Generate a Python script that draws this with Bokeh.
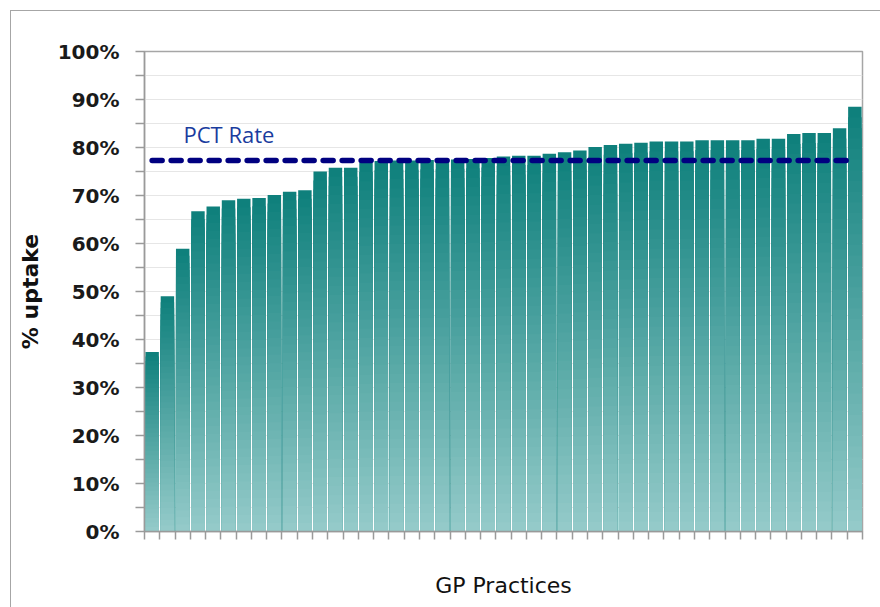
from bokeh.plotting import figure
from bokeh.models import (FixedTicker, PrintfTickFormatter, Range1d, Label,
                          ColumnDataSource, InlineStyleSheet)
from bokeh.embed import file_html
from bokeh.resources import INLINE

# ---- data ----
practices = list(range(1, 48))
uptake = [37.4, 49.0, 58.9, 66.7, 67.7, 69.0, 69.3, 69.5, 70.1, 70.8, 71.1,
          75.0, 75.8, 75.8, 76.8, 77.2, 77.3, 77.3, 77.4, 77.4, 77.5, 77.6,
          77.8, 78.1, 78.3, 78.3, 78.7, 79.0, 79.4, 80.1, 80.5, 80.8, 81.0,
          81.25, 81.25, 81.25, 81.5, 81.5, 81.5, 81.5, 81.8, 81.8, 82.8, 83.0,
          83.0, 84.0, 88.5]
pct_rate = 77.3
y_ticks = [0, 10, 20, 30, 40, 50, 60, 70, 80, 90, 100]
y_minor = [5, 15, 25, 35, 45, 55, 65, 75, 85, 95]

# ---- styling helpers ----
TOP = (15, 128, 124)
BOT = (151, 204, 203)
N = 40

def mix(f):
    r = [round(BOT[k] + (TOP[k] - BOT[k]) * f) for k in range(3)]
    return "#%02x%02x%02x" % tuple(r)

xs, tops, cols = [], [], []
for j in range(N):
    f = 1 - j / N
    for x, v in zip(practices, uptake):
        xs.append(x)
        tops.append(v * f)
        cols.append(mix(f))
src = ColumnDataSource(dict(x=xs, top=tops, color=cols))

border_css = InlineStyleSheet(css="""
:host::after {
  content: "";
  position: absolute;
  left: 10px; top: 10px;
  width: calc(100% - 10px); height: calc(100% - 10px);
  border-left: 1.5px solid #a6a6a6;
  border-top: 1.5px solid #a6a6a6;
  box-sizing: border-box;
  pointer-events: none;
}
""")

p = figure(width=880, height=607, output_backend="svg", toolbar_location=None,
           x_range=Range1d(0.5, len(practices) + 0.5), y_range=Range1d(0, 100),
           min_border_left=144, min_border_top=51, min_border_right=18,
           min_border_bottom=76, stylesheets=[border_css])

p.vbar(x="x", top="top", bottom=0, width=0.88, color="color", source=src,
       line_color=None)

p.line(x=[practices[0], practices[-1]], y=[pct_rate, pct_rate],
       line_color="#000080", line_width=5.5, line_dash="10 9", line_cap="round")

p.add_layout(Label(x=3.05, y=82.8, text="PCT Rate", text_color="#1a3c9e",
                   text_font="Open Sans", text_font_size="22px",
                   text_baseline="alphabetic"))

p.outline_line_color = "#a6a6a6"
p.outline_line_width = 1.5

# axes
p.yaxis.ticker = FixedTicker(ticks=y_ticks, minor_ticks=y_minor)
p.yaxis.formatter = PrintfTickFormatter(format="%d%%")
p.yaxis.major_label_text_font = "DejaVu Sans"
p.yaxis.major_label_text_font_style = "bold"
p.yaxis.major_label_text_font_size = "20px"
p.yaxis.major_label_text_color = "#1a1a1a"
p.yaxis.major_label_standoff = 16
p.yaxis.major_tick_out = 9
p.yaxis.major_tick_in = 0
p.yaxis.minor_tick_out = 9
p.yaxis.minor_tick_in = 0
p.yaxis.axis_label = "% uptake"
p.yaxis.axis_label_text_font = "DejaVu Sans"
p.yaxis.axis_label_text_font_style = "bold"
p.yaxis.axis_label_text_font_size = "22px"
p.yaxis.axis_label_text_color = "#111111"
p.yaxis.axis_label_standoff = 12

edges = [i + 0.5 for i in range(len(practices) + 1)]
p.xaxis.ticker = FixedTicker(ticks=edges, minor_ticks=[])
p.xaxis.major_label_overrides = {e: "" for e in edges}
p.xaxis.major_tick_out = 8
p.xaxis.major_tick_in = 0
p.xaxis.axis_label = "GP Practices"
p.xaxis.axis_label_text_font = "DejaVu Sans"
p.xaxis.axis_label_text_font_style = "normal"
p.xaxis.axis_label_text_font_size = "22px"
p.xaxis.axis_label_text_color = "#111111"
p.xaxis.axis_label_standoff = 33

for ax in (p.xaxis, p.yaxis):
    ax.axis_line_color = "#9a9a9a"
    ax.axis_line_width = 1.5
    ax.major_tick_line_color = "#9a9a9a"
    ax.major_tick_line_width = 1.5
    ax.minor_tick_line_color = "#9a9a9a"
    ax.minor_tick_line_width = 1.5

p.xgrid.grid_line_color = None
p.ygrid.ticker = FixedTicker(ticks=y_ticks, minor_ticks=y_minor)
p.ygrid.grid_line_color = "#e6e6e6"
p.ygrid.minor_grid_line_color = "#e6e6e6"
p.ygrid.level = "underlay"

open("out.html", "w").write(file_html(p, INLINE))
